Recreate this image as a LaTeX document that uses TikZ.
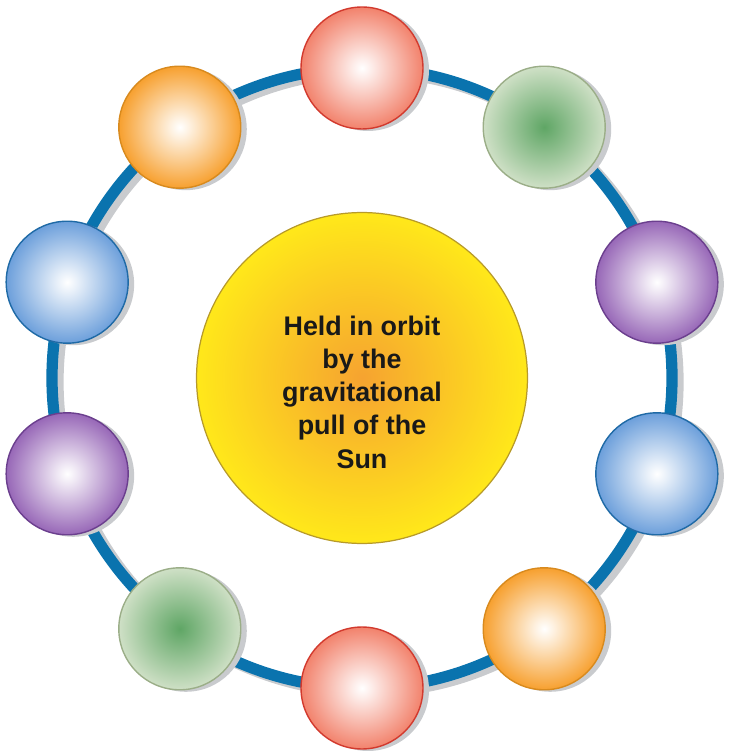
\documentclass[tikz,border=0pt]{standalone}
\usepackage{fontspec}
\setmainfont{Liberation Sans}
\usepackage{xcolor}
\definecolor{orbitBlue}{HTML}{0A73AE}
\definecolor{shadowGrey}{HTML}{C9CBCE}
\definecolor{sunYellow}{HTML}{FFE81A}
\definecolor{sunOrange}{HTML}{F6A330}
\definecolor{sunEdge}{HTML}{B79A2A}
\definecolor{redFill}{HTML}{F2826C}
\definecolor{redEdge}{HTML}{D23A2E}
\definecolor{greenFill}{HTML}{CFE0C6}
\definecolor{greenCore}{HTML}{5FA665}
\definecolor{greenEdge}{HTML}{9BAE88}
\definecolor{purpleFill}{HTML}{9767B7}
\definecolor{purpleEdge}{HTML}{6B3F8E}
\definecolor{blueFill}{HTML}{6C9FDB}
\definecolor{blueEdge}{HTML}{1F6AA6}
\definecolor{orangeFill}{HTML}{F7A02F}
\definecolor{orangeEdge}{HTML}{D88A1E}
\colorlet{ballcol}{redFill}
\usepackage{tikz}
\usetikzlibrary{positioning, calc}
\pgfdeclareradialshading[ballcol]{orbball}{\pgfpoint{0bp}{0bp}}{%
    color(0bp)=(white); color(4bp)=(white!85!ballcol); color(14bp)=(white!45!ballcol);
    color(25bp)=(ballcol); color(50bp)=(ballcol)}

\begin{document}
\begin{tikzpicture}[
    x=0.02cm, y=0.02cm,
    orbit/.style={line width=6.4pt, orbitBlue},
    orbitshadow/.style={line width=6.4pt, shadowGrey},
    ball/.style={circle, minimum size=2.44cm, inner sep=0pt, line width=0.8pt},
    ballshadow/.style={circle, minimum size=2.44cm, inner sep=0pt, fill=shadowGrey},
    shadeball/.style={ball, /utils/exec={\colorlet{ballcol}{#1}}, shading=orbball},
    redball/.style={shadeball=redFill, draw=redEdge},
    greenball/.style={ball, draw=greenEdge, inner color=greenCore, outer color=greenFill},
    purpleball/.style={shadeball=purpleFill, draw=purpleEdge},
    blueball/.style={shadeball=blueFill, draw=blueEdge},
    orangeball/.style={shadeball=orangeFill, draw=orangeEdge},
    sunstyle/.style={circle, minimum size=6.62cm, inner sep=0pt, draw=sunEdge, line width=0.7pt,
                     inner color=sunOrange, outer color=sunYellow}
]
    \useasboundingbox (-362,-378) rectangle (366,378);

    % the sun
    \node[sunstyle] (sun) at (0,0) {};
    \node[font=\fontsize{15.3}{18.9}\selectfont\bfseries, text=black!90, align=center]
        (label) at (0,-14) {Held in orbit\\by the\\gravitational\\pull of the\\Sun};

    % orbit ring
    \draw[orbitshadow] ($(sun.center)+(6,-4)$) circle (310);
    \draw[orbit] (sun.center) circle (310);

    % planets, clockwise from the top
    \foreach \i in {0,...,9} {
        \node[ballshadow] (s\i) at ($(sun.center)+(90-36*\i:310)+(6,-2)$) {};
    }
    \foreach \i/\kind in {0/red, 1/green, 2/purple, 3/blue, 4/orange,
                          5/red, 6/green, 7/purple, 8/blue, 9/orange} {
        \node[\kind ball] (p\i) at ($(sun.center)+(90-36*\i:310)$) {};
    }
\end{tikzpicture}
\end{document}
